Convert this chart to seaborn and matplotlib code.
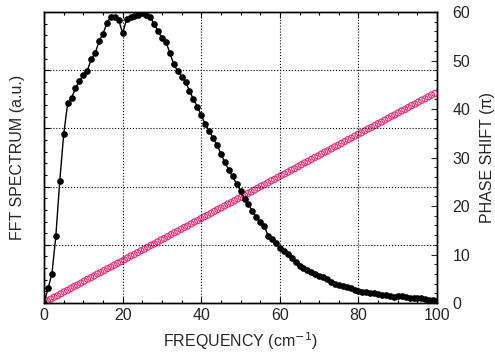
import numpy as np
import pandas as pd
import seaborn as sns
from matplotlib import pyplot as plt
from matplotlib.ticker import MultipleLocator, NullFormatter

sns.set_style('ticks')
plt.rcParams['font.family'] = ['Liberation Sans', 'DejaVu Sans']
plt.rcParams['xtick.direction'] = 'in'
plt.rcParams['ytick.direction'] = 'in'

# FFT spectrum (fraction of full scale), one point per cm^-1
freq = list(range(0, 101))
spectrum = [0.0, 0.05, 0.10, 0.23, 0.42, 0.58, 0.686, 0.705, 0.738, 0.763,
            0.784, 0.798, 0.838, 0.858, 0.90, 0.925, 0.963, 0.984, 0.984, 0.972,
            0.927, 0.975, 0.984, 0.986, 0.99, 0.995, 0.99, 0.984, 0.958, 0.935,
            0.91, 0.898, 0.86, 0.82, 0.798, 0.778, 0.76, 0.73, 0.70, 0.675,
            0.645, 0.615, 0.592, 0.567, 0.543, 0.513, 0.483, 0.458, 0.435, 0.409,
            0.385, 0.358, 0.34, 0.315, 0.296, 0.278, 0.265, 0.232, 0.22, 0.205,
            0.19, 0.178, 0.168, 0.155, 0.14, 0.127, 0.12, 0.113, 0.106, 0.099,
            0.094, 0.09, 0.082, 0.073, 0.066, 0.062, 0.059, 0.056, 0.05, 0.044,
            0.04, 0.039, 0.039, 0.035, 0.033, 0.031, 0.029, 0.027, 0.024, 0.022,
            0.023, 0.024, 0.02, 0.018, 0.016, 0.017, 0.016, 0.013, 0.012, 0.01,
            0.008]

# phase shift (pi), sampled every 0.85 cm^-1
phase_freq = [round(0.85 * i, 2) for i in range(118)]
phase = [0.8, 0.4, 0.8, 1.2, 1.5, 1.9, 2.3, 2.6, 3.0, 3.4,
         3.7, 4.1, 4.5, 4.9, 5.2, 5.6, 6.0, 6.3, 6.7, 7.1,
         7.4, 7.8, 8.2, 8.5, 8.9, 9.3, 9.7, 10.0, 10.4, 10.8,
         11.1, 11.5, 11.9, 12.2, 12.6, 13.0, 13.3, 13.7, 14.1, 14.5,
         14.8, 15.2, 15.6, 15.9, 16.3, 16.7, 17.0, 17.4, 17.8, 18.1,
         18.5, 18.9, 19.3, 19.6, 20.0, 20.4, 20.7, 21.1, 21.5, 21.8,
         22.2, 22.6, 22.9, 23.3, 23.7, 24.1, 24.4, 24.8, 25.2, 25.5,
         25.9, 26.3, 26.6, 27.0, 27.4, 27.7, 28.1, 28.5, 28.9, 29.2,
         29.6, 30.0, 30.3, 30.7, 31.1, 31.4, 31.8, 32.2, 32.5, 32.9,
         33.3, 33.7, 34.0, 34.4, 34.8, 35.1, 35.5, 35.9, 36.2, 36.6,
         37.0, 37.3, 37.7, 38.1, 38.5, 38.8, 39.2, 39.6, 39.9, 40.3,
         40.7, 41.0, 41.4, 41.8, 42.1, 42.5, 42.9, 43.2]

df_fft = pd.DataFrame({'freq': freq, 'spec': spectrum})
df_ph = pd.DataFrame({'freq': phase_freq, 'phase': phase})

fig = plt.figure(figsize=(4.95, 3.54), dpi=100)
ax1 = fig.add_axes([0.089, 0.144, 0.794, 0.822])
ax2 = ax1.twinx()

sns.scatterplot(ax=ax2, data=df_ph, x='freq', y='phase', marker='o', s=19,
                facecolor='none', edgecolor='#e8337a', linewidth=0.9, legend=False)
sns.lineplot(ax=ax1, data=df_fft, x='freq', y='spec', color='black', linewidth=1.0,
             marker='o', markersize=4.8, markeredgewidth=0, legend=False)

ax1.set_zorder(ax2.get_zorder() + 1)
ax1.patch.set_visible(False)

ax1.set_xlim(0, 100)
ax1.set_ylim(0, 1.0)
ax2.set_ylim(0, 60)

ax1.xaxis.set_major_locator(MultipleLocator(20))
ax1.xaxis.set_minor_locator(MultipleLocator(5))
ax1.yaxis.set_major_locator(MultipleLocator(0.2))
ax1.yaxis.set_minor_locator(MultipleLocator(0.04))
ax1.yaxis.set_major_formatter(NullFormatter())
ax2.yaxis.set_major_locator(MultipleLocator(10))
ax2.yaxis.set_minor_locator(MultipleLocator(2))

ax1.grid(True, which='major', color='black', linestyle=':', linewidth=0.8)
ax1.tick_params(axis='both', which='both', top=True, right=False, labelsize=11.5,
                length=4, width=0.8, color='black')
ax1.tick_params(which='minor', length=2.5)
ax2.tick_params(axis='y', which='both', labelsize=11.5, length=4, width=0.8, pad=11)
ax2.tick_params(which='minor', length=2.5)

for ax in (ax1, ax2):
    for s in ax.spines.values():
        s.set_color('black')
        s.set_linewidth(1.0)

ax1.set_xlabel('FREQUENCY (cm$^{-1}$)', fontsize=11.5, labelpad=5)
ax1.set_ylabel('FFT SPECTRUM (a.u.)', fontsize=11.5, labelpad=10)
ax2.set_ylabel('PHASE SHIFT (\u03c0)', fontsize=11.5, labelpad=7)

fig.savefig('out.png', dpi=100)
